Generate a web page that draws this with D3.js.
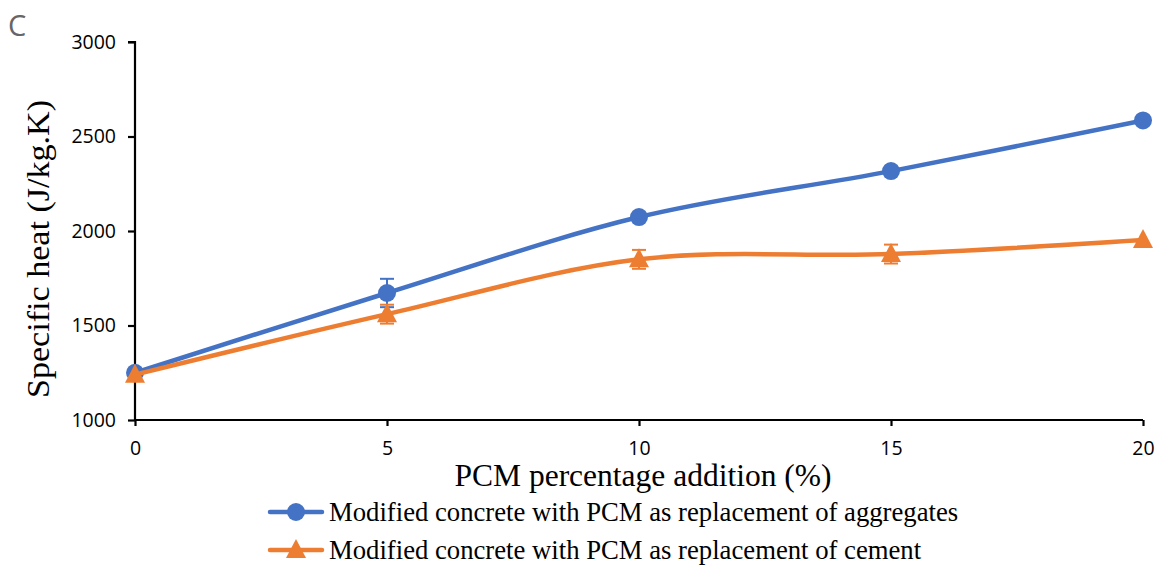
<!DOCTYPE html>
<html><head><meta charset="utf-8">
<script src="https://cdn.jsdelivr.net/npm/d3@7"></script>
<style>body{margin:0;background:#fff}</style>
</head><body>
<svg id="c" width="1164" height="568"></svg>
<script>
const xValues = [0, 5, 10, 15, 20];
const aggregates = [1250, 1672, 2074, 2317, 2585];
const aggregatesErr = [0, 75, 0, 0, 0];
const cement = [1240, 1560, 1850, 1878, 1952];
const cementErr = [0, 50, 50, 50, 0];
const yTicks = [1000, 1500, 2000, 2500, 3000];
const xTicks = [0, 5, 10, 15, 20];
const seriesNames = ["Modified concrete with PCM as replacement of aggregates",
                     "Modified concrete with PCM as replacement of cement"];

const svg = d3.select("#c");
const x = d3.scaleLinear().domain([0, 20]).range([135, 1143]);
const y = d3.scaleLinear().domain([1000, 3000]).range([420, 42]);
const tickFont = "'Open Sans', 'Noto Sans', sans-serif";

// axes
const yAxis = svg.append("g").attr("transform", "translate(135,0)")
  .call(d3.axisLeft(y).tickValues(yTicks).tickSize(7).tickPadding(12).tickFormat(d3.format("d")));
const xAxis = svg.append("g").attr("transform", "translate(0,420)")
  .call(d3.axisBottom(x).tickValues(xTicks).tickSize(6).tickPadding(15));
[yAxis, xAxis].forEach(a => {
  a.select(".domain").attr("stroke", "#000").attr("stroke-width", 2.2);
  a.selectAll(".tick line").attr("stroke", "#000").attr("stroke-width", 2.2);
  a.selectAll("text").attr("font-family", tickFont).attr("font-size", 19.5).attr("fill", "#000");
});
yAxis.select(".domain").attr("d", "M-7,42H0V420");
xAxis.select(".domain").attr("d", "M135,0H1143");

const line = d3.line().x((d, i) => x(xValues[i])).y(d => y(d)).curve(d3.curveCatmullRom.alpha(0));

function drawSeries(vals, errs, color, marker) {
  const g = svg.append("g");
  g.append("path").datum(vals).attr("d", line).attr("fill", "none")
    .attr("stroke", color).attr("stroke-width", 4.5).attr("stroke-linecap", "round");
  vals.forEach((v, i) => {
    if (errs[i] > 0) {
      const cx = x(xValues[i]);
      [v + errs[i], v - errs[i]].forEach(e => {
        g.append("line").attr("x1", cx).attr("x2", cx).attr("y1", y(v)).attr("y2", y(e))
          .attr("stroke", color).attr("stroke-width", 2);
        g.append("line").attr("x1", cx - 7).attr("x2", cx + 7).attr("y1", y(e)).attr("y2", y(e))
          .attr("stroke", color).attr("stroke-width", 2);
      });
    }
  });
  vals.forEach((v, i) => drawMarker(g, x(xValues[i]), y(v), color, marker));
}
function drawMarker(g, cx, cy, color, marker) {
  if (marker === "circle") {
    g.append("circle").attr("cx", cx).attr("cy", cy).attr("r", 9).attr("fill", color);
  } else {
    g.append("path").attr("d", `M${cx},${cy - 11}L${cx + 10},${cy + 8}L${cx - 10},${cy + 8}Z`).attr("fill", color);
  }
}
drawSeries(aggregates, aggregatesErr, "#4472C4", "circle");
drawSeries(cement, cementErr, "#ED7D31", "triangle");

// titles
svg.append("text").attr("x", 8).attr("y", 36).text("C")
  .attr("font-family", tickFont).attr("font-size", 29).attr("fill", "#666");
svg.append("text").attr("transform", "translate(49,249) rotate(-90)").attr("text-anchor", "middle")
  .attr("font-family", "'Liberation Serif', serif").attr("font-size", 32)
  .attr("textLength", 298).attr("lengthAdjust", "spacingAndGlyphs").text("Specific heat (J/kg.K)");
svg.append("text").attr("x", 643).attr("y", 486).attr("text-anchor", "middle")
  .attr("font-family", "'Liberation Serif', serif").attr("font-size", 31.5).text("PCM percentage addition (%)");

// legend
const legColors = ["#4472C4", "#ED7D31"], legMarkers = ["circle", "triangle"], legY = [512, 550];
seriesNames.forEach((n, i) => {
  const g = svg.append("g");
  g.append("line").attr("x1", 270).attr("x2", 322).attr("y1", legY[i]).attr("y2", legY[i])
    .attr("stroke", legColors[i]).attr("stroke-width", 4.5).attr("stroke-linecap", "round");
  drawMarker(g, 296, legY[i], legColors[i], legMarkers[i]);
  g.append("text").attr("x", 329).attr("y", legY[i] + 9).text(n)
    .attr("font-family", "'Liberation Serif', serif").attr("font-size", 26.7);
});
</script>
</body></html>
